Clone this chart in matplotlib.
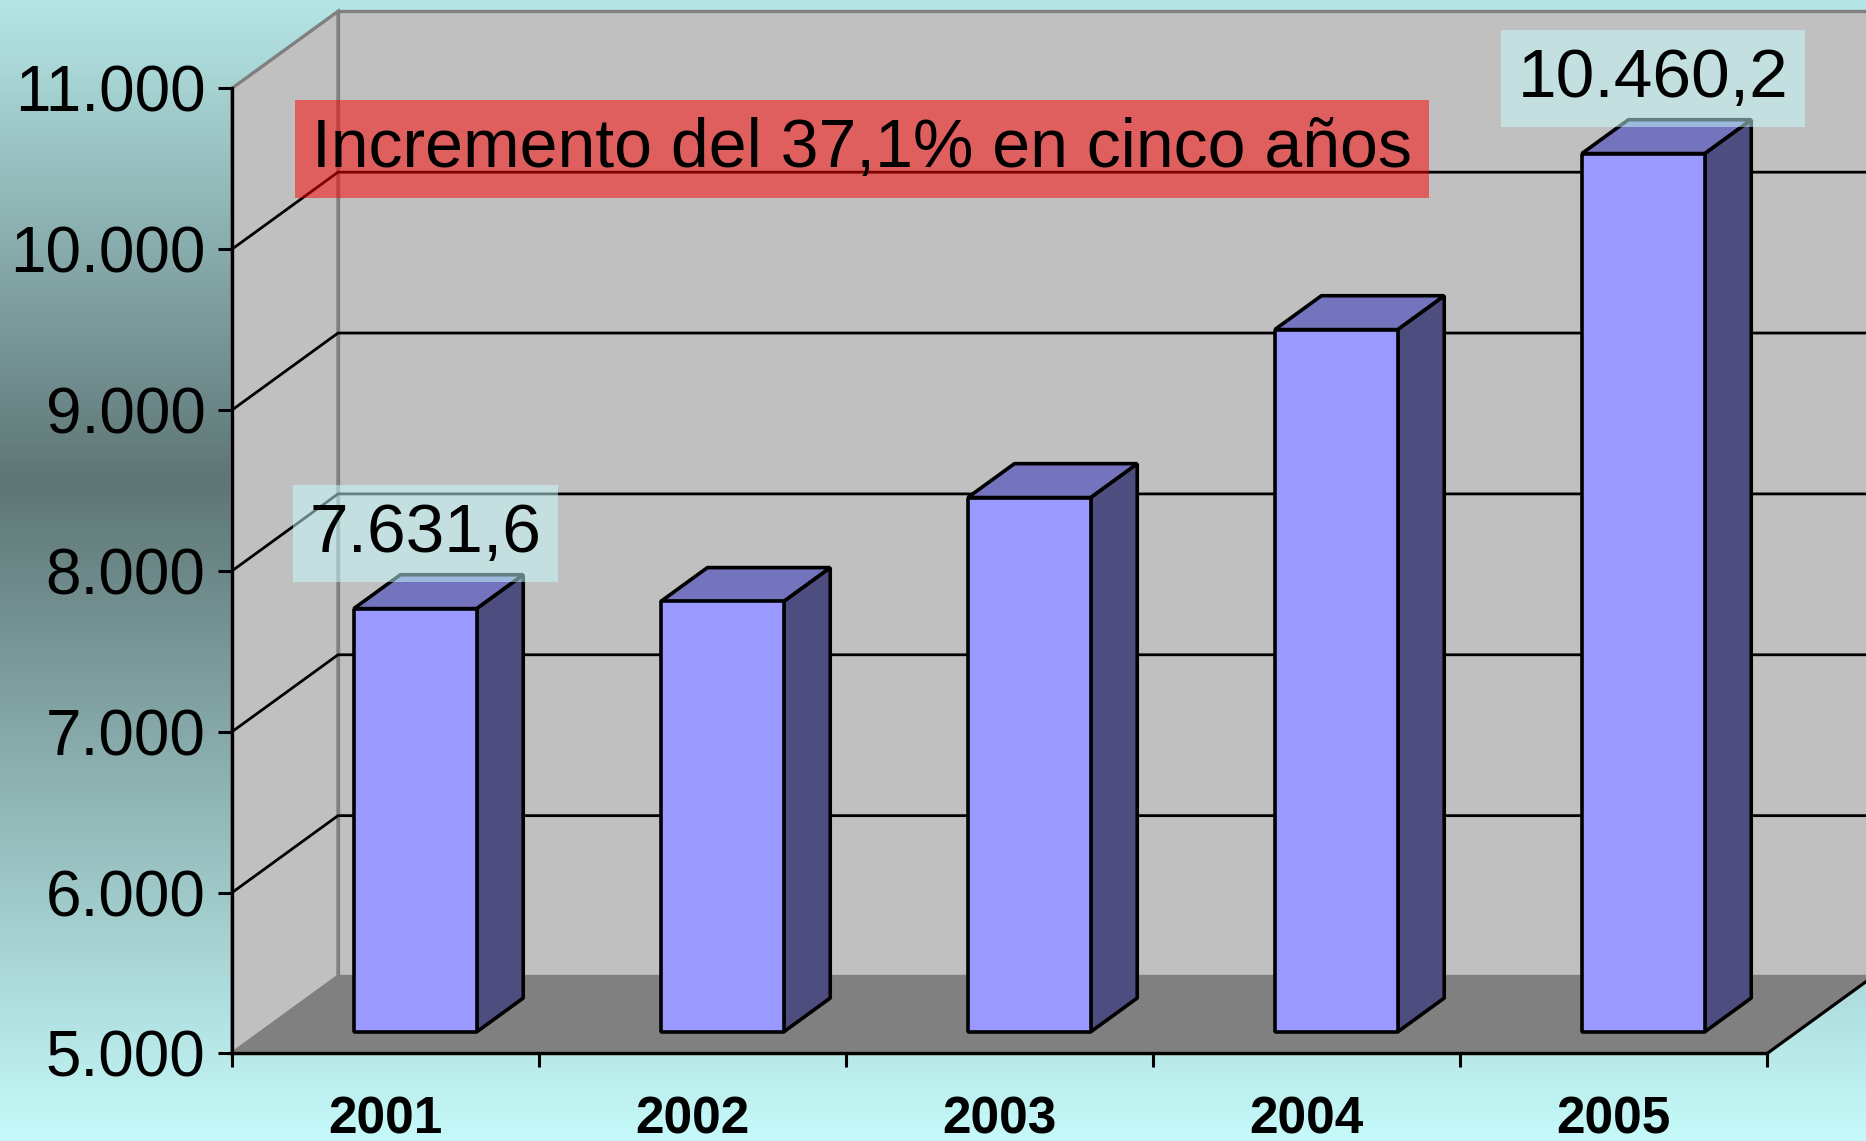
import numpy as np
import matplotlib.pyplot as plt
from matplotlib.patches import Polygon

plt.rcParams['font.family'] = ['Liberation Sans', 'DejaVu Sans']

# datos
years = ['2001', '2002', '2003', '2004', '2005']
values = [7631.6, 7676.0, 8322.0, 9366.0, 10460.2]
labelled = {0: '7.631,6', 4: '10.460,2'}
yticks = [5000, 6000, 7000, 8000, 9000, 10000, 11000]
ytick_labels = ['5.000', '6.000', '7.000', '8.000', '9.000', '10.000', '11.000']
note = 'Incremento del 37,1% en cinco años'

# profundidad del efecto 3D (en unidades de datos)
DX = 0.3453
DY = 478.6
YMIN, YMAX = 5000, 11000


def proj(x, y, d):
    return (x + d * DX, y + d * DY)


fig = plt.figure(figsize=(18.66, 11.41), dpi=100)

# fondo degradado
bg = fig.add_axes([0, 0, 1, 1])
pos = np.linspace(0, 1, 400)
stops = [0.0, 0.42, 1.0]
cols = np.array([[182, 230, 230], [94, 117, 117], [198, 250, 250]]) / 255
grad = np.stack([np.interp(pos, stops, cols[:, k]) for k in range(3)], axis=1)
bg.imshow(grad[:, None, :], aspect='auto', extent=[0, 1, 0, 1])
bg.axis('off')

ax = fig.add_axes([0.12433, 0.07669, 0.82262, 0.84592])
ax.set_facecolor('none')
ax.set_xlim(0, 5)
ax.set_ylim(YMIN, YMAX)

# paredes y suelo
side = [proj(0, YMIN, 0), proj(0, YMAX, 0), proj(0, YMAX, 1), proj(0, YMIN, 1)]
back = [proj(0, YMIN, 1), proj(5, YMIN, 1), proj(5, YMAX, 1), proj(0, YMAX, 1)]
floor = [proj(0, YMIN, 0), proj(5, YMIN, 0), proj(5, YMIN, 1), proj(0, YMIN, 1)]
for poly, fc in [(back, '#c0c0c0'), (side, '#c0c0c0'), (floor, '#808080')]:
    ax.add_patch(Polygon(poly, closed=True, facecolor=fc, edgecolor='#808080',
                         lw=2.4, clip_on=False, zorder=1))

# líneas de división
for v in yticks[1:-1]:
    xs = [0, DX, 5 + DX]
    ys = [v, v + DY, v + DY]
    ax.plot(xs, ys, color='black', lw=2, clip_on=False, zorder=2)

# borde derecho del suelo
rx, ry = zip(proj(5, YMIN, 0), proj(5, YMIN, 1))
ax.plot(rx, ry, color='black', lw=2.2, clip_on=False, zorder=2)

# barras 3D
hw = 0.2
d0, d1 = 0.28, 0.72
for i, v in enumerate(values):
    x0, x1 = i + 0.5 - hw, i + 0.5 + hw
    front = [proj(x0, YMIN, d0), proj(x1, YMIN, d0), proj(x1, v, d0), proj(x0, v, d0)]
    right = [proj(x1, YMIN, d0), proj(x1, YMIN, d1), proj(x1, v, d1), proj(x1, v, d0)]
    top = [proj(x0, v, d0), proj(x1, v, d0), proj(x1, v, d1), proj(x0, v, d1)]
    for poly, fc in [(right, '#4d4d80'), (top, '#7373be'), (front, '#9999ff')]:
        ax.add_patch(Polygon(poly, closed=True, facecolor=fc, edgecolor='black',
                             lw=2.6, joinstyle='bevel', clip_on=False, zorder=3))

# etiquetas de datos
for i, txt in labelled.items():
    ax.text(i + 0.5 + 0.13, values[i] + 600, txt, fontsize=50, ha='center', va='center',
            zorder=5, bbox=dict(boxstyle='square,pad=0.24', facecolor='#c8ffff',
                                edgecolor='none', alpha=0.5))

# nota
ax.text(0.262, 10625, note, fontsize=49, ha='left', va='center', zorder=5,
        bbox=dict(boxstyle='square,pad=0.25', facecolor='red', edgecolor='none', alpha=0.5))

# ejes
for s in ['top', 'right']:
    ax.spines[s].set_visible(False)
for s in ['left', 'bottom']:
    ax.spines[s].set_linewidth(2.4)
    ax.spines[s].set_zorder(4)
ax.set_yticks(yticks)
ax.set_yticklabels(ytick_labels, fontsize=46)
ax.tick_params(axis='y', direction='out', length=10, width=2.2, pad=9)
ax.set_xticks(range(6))
ax.set_xticklabels([''] * 6)
ax.tick_params(axis='x', which='major', direction='out', length=10, width=2.2)
ax.set_xticks(np.arange(5) + 0.5, minor=True)
ax.set_xticklabels(years, minor=True, fontsize=37, fontweight='bold')
ax.tick_params(axis='x', which='minor', length=0, pad=30)

fig.savefig('out.png', dpi=100)
